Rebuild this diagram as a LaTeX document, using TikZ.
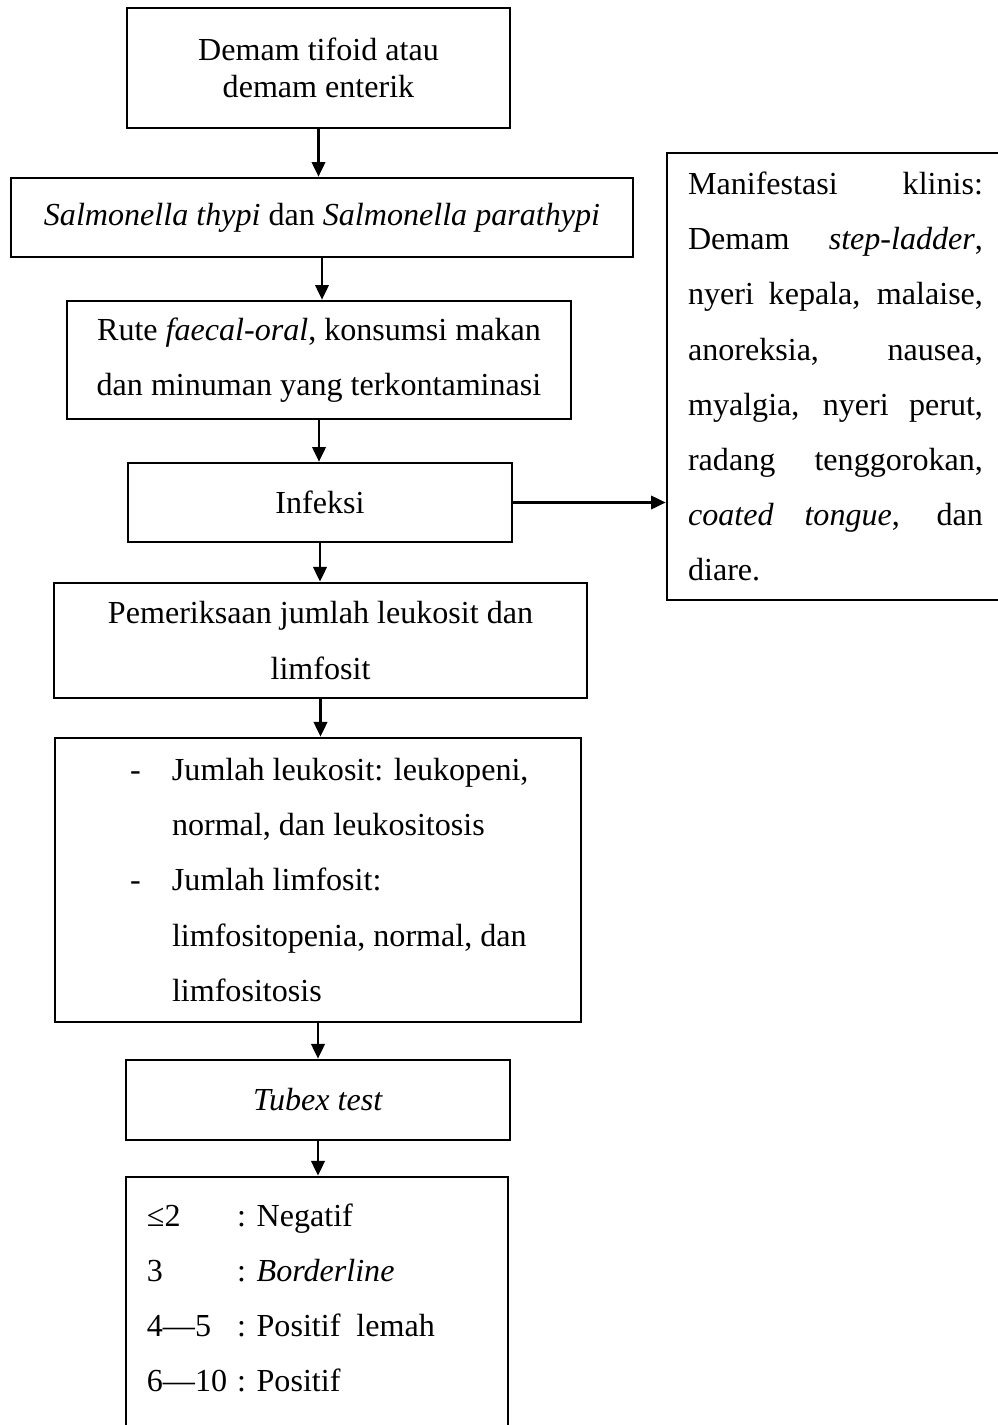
\documentclass[tikz,border=0pt]{standalone}
\usepackage{fontspec}
\setmainfont{Liberation Serif}
\usetikzlibrary{arrows.meta}

\newcommand{\singlespaced}{\fontsize{12pt}{13.8pt}\selectfont}
\newcommand{\halfspaced}{\fontsize{12pt}{20.6pt}\selectfont}
\newcommand{\plainspaces}{\spaceskip=0pt\xspaceskip=0pt\relax}
\newcommand{\dashitem}[1]{\hspace*{10.1pt}\makebox[15.7pt][l]{-}#1}
\newcommand{\skipitem}[1]{\hspace*{25.8pt}#1}
\newcommand{\score}[2]{\makebox[33.7pt][l]{#1}: #2}
\newcommand{\fullline}[1]{\makebox[110.3pt][s]{#1}}

\begin{document}
\begin{tikzpicture}[x=0.374pt, y=-0.374pt,
    box/.style={draw, line width=1pt, rectangle, inner sep=0pt, align=center, font=\singlespaced},
    arrow/.style={line width=1pt, -{Triangle[width=5pt,length=5.5pt]}}]
    \useasboundingbox (0,0) rectangle (998,1425);

    % Draw the boxes
    \node[box, minimum width=143.2pt, minimum height=44.9pt] (tifoid) at (318.5,68) {Demam tifoid atau\\demam enterik};
    \node[box, minimum width=232.6pt, minimum height=29.5pt] (salmonella) at (322,217.5) {\textit{Salmonella thypi} dan \textit{Salmonella parathypi}};
    \node[box, minimum width=188.5pt, minimum height=44.1pt, font=\halfspaced] (rute) at (319,360) {Rute \textit{faecal-oral}, konsumsi makan\\dan minuman yang terkontaminasi};
    \node[box, minimum width=143.6pt, minimum height=29.5pt] (infeksi) at (320,502.5) {Infeksi};
    \node[box, minimum width=199.3pt, minimum height=43pt, font=\halfspaced] (pemeriksaan) at (320.5,640.5) {Pemeriksaan jumlah leukosit dan\\limfosit};
    \node[box, minimum width=196.7pt, minimum height=106.2pt, text width=160.8pt, align=left, font=\halfspaced] (hasil) at (318,880) {\plainspaces
        \dashitem{Jumlah leukosit: leukopeni,}\\
        \skipitem{normal, dan leukositosis}\\
        \dashitem{Jumlah limfosit:}\\
        \skipitem{limfositopenia, normal, dan}\\
        \skipitem{limfositosis}};
    \node[box, minimum width=143.6pt, minimum height=29.9pt] (tubex) at (318,1100) {\textit{Tubex test}};
    \node[box, minimum width=142.9pt, minimum height=110.7pt, text width=127.2pt, align=left, font=\halfspaced] (interpretasi) at (317,1325) {\plainspaces
        \score{≤2}{Negatif}\\
        \score{3}{\textit{Borderline}}\\
        \score{4—5}{Positif\ \ lemah}\\
        \score{6—10}{Positif}\\
        \mbox{}};
    \node[box, minimum width=126pt, minimum height=167.2pt, text width=110.3pt, align=left, font=\halfspaced] (manifestasi) at (835.5,376.5) {\plainspaces
        \fullline{Manifestasi klinis:}\\
        \fullline{Demam \textit{step-ladder},}\\
        \fullline{nyeri kepala, malaise,}\\
        \fullline{anoreksia, nausea,}\\
        \fullline{myalgia, nyeri perut,}\\
        \fullline{radang tenggorokan,}\\
        \fullline{\textit{coated tongue}, dan}\\
        diare.};

    % Draw the arrows
    \foreach \a/\b in {tifoid/salmonella, salmonella/rute, rute/infeksi, infeksi/pemeriksaan,
                       pemeriksaan/hasil, hasil/tubex, tubex/interpretasi}
        \draw[arrow] (\a.south) -- (\a.south |- \b.north);
    \draw[arrow] (infeksi.east) -- (infeksi.east -| manifestasi.west);
\end{tikzpicture}
\end{document}
